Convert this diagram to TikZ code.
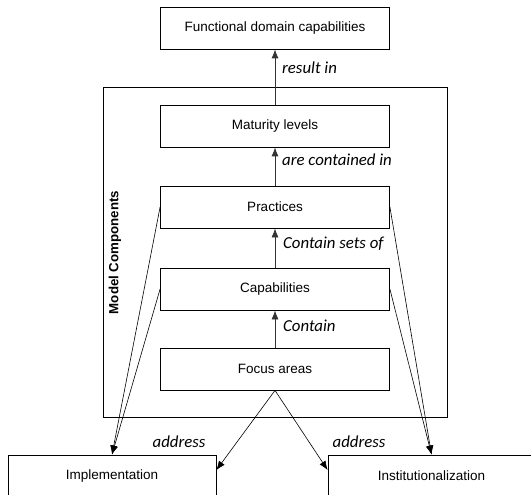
\documentclass[tikz,border=0pt]{standalone}
\usepackage{fontspec}
\setmainfont{Liberation Sans}
\newfontfamily\labfont{Carlito}
\usetikzlibrary{arrows.meta}
\begin{document}
\begin{tikzpicture}[x=1bp,y=-1bp,
  box/.style={draw=black,line width=0.8bp,minimum width=229bp,minimum height=42bp,inner sep=0pt,font=\fontsize{13.5bp}{16bp}\selectfont},
  lab/.style={font=\labfont\itshape\fontsize{16.8bp}{19bp}\selectfont,inner sep=0pt},
  arr/.style={draw=black!80,line width=0.8bp,-{Latex[length=9bp,width=7bp]}},
  thin/.style={draw=black,line width=0.6bp,-{Latex[length=9bp,width=7bp]}}]
\clip (0,0) rectangle (531,495);
\node[draw=black,line width=0.9bp,minimum width=343.5bp,minimum height=330bp,inner sep=0pt] (frame) at (275.25,252) {};
\node[box] (func) at (275,28) {Functional domain capabilities};
\node[box] (mat) at (275,126) {Maturity levels};
\node[box] (prac) at (275,207) {Practices};
\node[box] (cap) at (275,289) {Capabilities};
\node[box] (foc) at (275,369) {Focus areas};
\node[box,minimum width=208bp] (impl) at (112,476) {Implementation};
\node[box,minimum width=207bp] (inst) at (431.5,476) {Institutionalization};
\node[rotate=90,inner sep=0pt,font=\bfseries\fontsize{13.3bp}{16bp}\selectfont] (mc) at (115,252.5) {Model Components};
\draw[arr] (mat) -- (func);
\draw[arr] (prac) -- (mat);
\draw[arr] (cap) -- (prac);
\draw[arr] (foc) -- (cap);
\draw[thin] (prac.west) -- (impl.north);
\draw[thin] (cap.west) -- (impl.north);
\draw[thin] (prac.east) -- (inst.north);
\draw[thin] (cap.east) -- (inst.north);
\draw[thin] (foc.south) -- ([yshift=6bp]impl.east);
\draw[thin] (foc.south) -- ([yshift=6bp]inst.west);
\node[lab,anchor=west] (l1) at (282,68) {result in};
\node[lab,anchor=west] (l2) at (282,160) {are contained in};
\node[lab,anchor=west] (l3) at (283,244) {Contain sets of};
\node[lab,anchor=west] (l4) at (283,325.5) {Contain};
\node[lab] (l5) at (179,441.7) {address};
\node[lab] (l6) at (359,441.7) {address};
\end{tikzpicture}
\end{document}
